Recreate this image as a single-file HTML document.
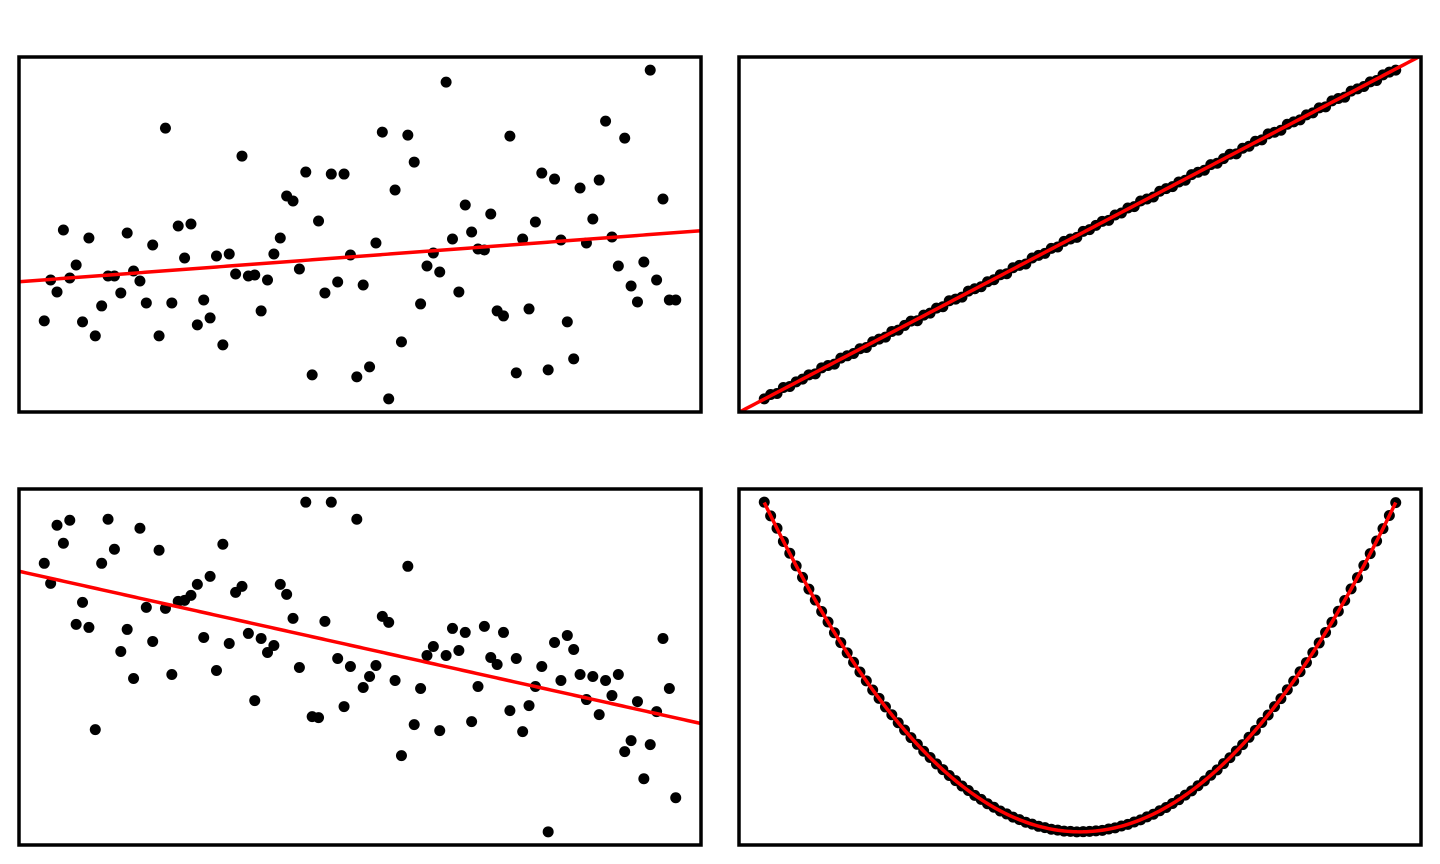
<!DOCTYPE html>
<html>
<head>
<meta charset="utf-8">
<style>
  html, body { margin: 0; padding: 0; background: #fff; }
  body { width: 1440px; height: 864px; overflow: hidden; font-family: "Liberation Sans", sans-serif; }
  svg { display: block; }
</style>
</head>
<body>
<svg id="chart" width="1440" height="864" viewBox="0 0 1440 864" xmlns="http://www.w3.org/2000/svg"></svg>
<script>
// Values (100 points per panel, x = 1..100)
const weakPositiveY = [99,140,128,190,142,155,98,182,84,114,144,144,127,187,149,139,117,175,84,292,117,194,162,196,95,120,102,164,75,166,146,264,144,145,109,140,166,182,224,219,151,248,45,199,127,246,138,246,165,43,135,53,177,288,21,230,78,285,258,116,154,167,148,338,181,128,215,188,171,170,206,109,104,284,47,181,111,198,247,50,241,180,98,61,232,177,201,240,299,183,154,282,134,118,158,350,140,221,120,120];
const negativeY = [287,267,325,307,330,226,248,223,121,287,331,301,199,221,172,322,243,209,300,242,176,249,250,255,266,213,274,180,306,207,258,264,217,150,212,198,205,266,256,232,183,348,134,133,229,348,192,144,184,331,163,174,185,234,228,170,95,284,126,162,195,204,120,195,222,200,218,129,164,224,193,186,218,140,192,119,145,164,184,19,208,170,215,201,176,151,174,136,170,155,176,99,110,149,72,106,139,212,162,53];
const linearY = [1.2,2.5,2.8,4.6,4.9,6.3,7.1,8.4,8.7,10.5,11.2,11.6,13.4,14.1,14.8,16.2,16.6,18.3,19.1,19.7,21.4,21.8,23.2,24.5,24.6,26.3,26.9,28.4,28.8,30.6,31.1,31.7,33.5,34.2,34.8,36.3,36.9,38.4,38.7,40.5,41.2,41.6,43.4,44.2,44.8,46.3,46.7,48.4,49.1,49.6,51.4,51.9,53.2,54.4,54.7,56.3,56.9,58.4,58.8,60.5,61.1,61.7,63.4,64.2,64.8,66.2,66.7,68.4,69.1,69.7,71.4,71.8,73.2,74.5,74.6,76.3,76.9,78.4,78.8,80.6,81.1,81.7,83.5,84.2,84.8,86.3,86.9,88.4,88.7,90.5,91.2,91.6,93.4,94.1,94.8,96.2,96.6,98.3,99.1,99.7];
const quadraticY = [2452,2350,2258,2160,2072,1978,1893,1805,1724,1639,1561,1481,1407,1331,1261,1189,1123,1055,993,929,871,811,757,701,651,599,553,505,463,419,381,341,307,271,241,209,183,155,133,109,91,71,57,41,31,19,13,5,3,0,1,3,7,11,21,29,43,55,73,89,111,131,157,181,211,239,273,305,343,379,421,461,507,551,601,649,703,755,813,869,931,991,1057,1121,1191,1259,1333,1405,1483,1559,1641,1721,1807,1891,1981,2069,2163,2255,2353,2449];

const NS = "http://www.w3.org/2000/svg";
const svg = document.getElementById("chart");

function extent(arr) {
  let lo = Math.min(...arr), hi = Math.max(...arr);
  const pad = (hi - lo) * 0.04;
  return [lo - pad, hi + pad];
}

function polyfit(xs, ys, deg) {
  const n = deg + 1;
  const A = [], b = [];
  for (let i = 0; i < n; i++) { A.push(new Array(n).fill(0)); b.push(0); }
  for (let k = 0; k < xs.length; k++) {
    for (let i = 0; i < n; i++) {
      b[i] += ys[k] * Math.pow(xs[k], i);
      for (let j = 0; j < n; j++) A[i][j] += Math.pow(xs[k], i + j);
    }
  }
  for (let i = 0; i < n; i++) {
    let p = i;
    for (let r = i + 1; r < n; r++) if (Math.abs(A[r][i]) > Math.abs(A[p][i])) p = r;
    [A[i], A[p]] = [A[p], A[i]]; [b[i], b[p]] = [b[p], b[i]];
    for (let r = i + 1; r < n; r++) {
      const f = A[r][i] / A[i][i];
      for (let c = i; c < n; c++) A[r][c] -= f * A[i][c];
      b[r] -= f * b[i];
    }
  }
  const c = new Array(n).fill(0);
  for (let i = n - 1; i >= 0; i--) {
    let s = b[i];
    for (let j = i + 1; j < n; j++) s -= A[i][j] * c[j];
    c[i] = s / A[i][i];
  }
  return c;
}

function drawPanel(name, ys, deg, left, top, w, h, fullWidth) {
  const g = document.createElementNS(NS, "g");
  
  
  svg.appendChild(g);

  const xs = ys.map((_, i) => i + 1);
  const [x0, x1] = extent(xs);
  const [y0, y1] = extent(ys);
  const sx = v => left + (v - x0) / (x1 - x0) * w;
  const sy = v => top + h - (v - y0) / (y1 - y0) * h;

  const clip = document.createElementNS(NS, "clipPath");
  clip.setAttribute("id", name + "-clip");
  const cr = document.createElementNS(NS, "rect");
  cr.setAttribute("x", left); cr.setAttribute("y", top);
  cr.setAttribute("width", w); cr.setAttribute("height", h);
  clip.appendChild(cr);
  g.appendChild(clip);

  const pts = document.createElementNS(NS, "g");
  
  
  g.appendChild(pts);
  ys.forEach((y, i) => {
    const c = document.createElementNS(NS, "circle");
    c.setAttribute("cx", sx(xs[i]));
    c.setAttribute("cy", sy(y));
    c.setAttribute("r", 5.5);
    c.setAttribute("fill", "#000");
    
    
    pts.appendChild(c);
  });

  const coef = polyfit(xs, ys, deg);
  const f = x => coef.reduce((s, c, i) => s + c * Math.pow(x, i), 0);
  const a = fullWidth ? x0 : xs[0];
  const bEnd = fullWidth ? x1 : xs[xs.length - 1];
  let d = "";
  const steps = 200;
  for (let k = 0; k <= steps; k++) {
    const x = a + (bEnd - a) * k / steps;
    d += (k ? "L" : "M") + sx(x).toFixed(2) + "," + sy(f(x)).toFixed(2);
  }
  const path = document.createElementNS(NS, "path");
  path.setAttribute("d", d);
  path.setAttribute("fill", "none");
  path.setAttribute("stroke", "#ff0000");
  path.setAttribute("stroke-width", 3.5);
  path.setAttribute("clip-path", "url(#" + name + "-clip)");
  
  
  g.appendChild(path);

  const box = document.createElementNS(NS, "rect");
  box.setAttribute("x", left); box.setAttribute("y", top);
  box.setAttribute("width", w); box.setAttribute("height", h);
  box.setAttribute("fill", "none");
  box.setAttribute("stroke", "#000");
  box.setAttribute("stroke-width", 3.5);
  
  
  g.appendChild(box);
}

drawPanel("panel-weak-positive", weakPositiveY, 1, 19, 57, 682, 355, true);
drawPanel("panel-linear", linearY, 1, 739, 57, 682, 355, true);
drawPanel("panel-negative", negativeY, 1, 19, 489, 682, 356, true);
drawPanel("panel-quadratic", quadraticY, 2, 739, 489, 682, 356, false);
</script>
</body>
</html>
